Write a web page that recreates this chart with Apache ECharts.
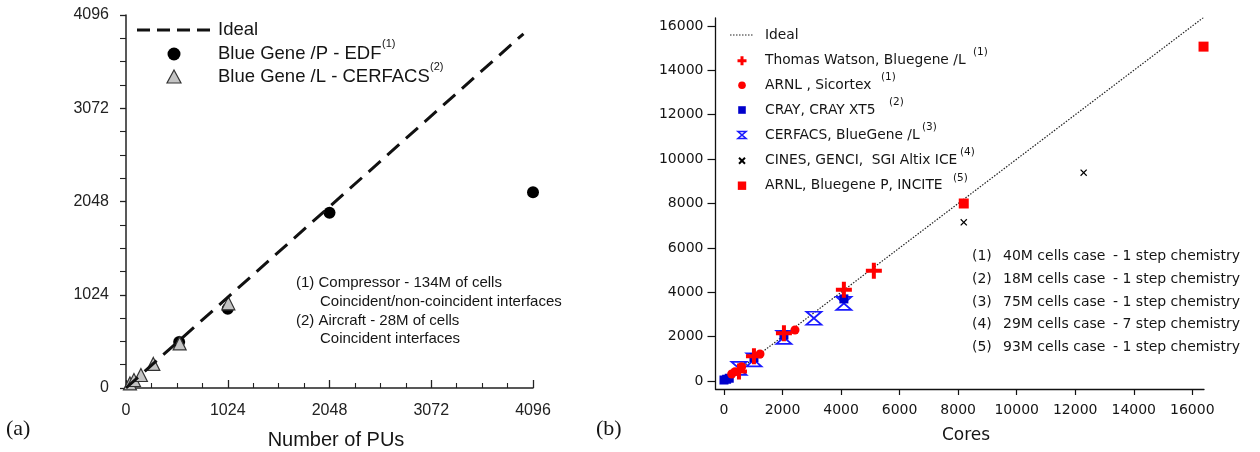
<!DOCTYPE html>
<html>
<head>
<meta charset="utf-8">
<script src="https://cdn.jsdelivr.net/npm/echarts@6/dist/echarts.min.js"></script>
<style>
html,body{margin:0;padding:0;background:#fff;}
#chart{width:1260px;height:452px;}
</style>
</head>
<body>
<div id="chart"></div>
<script>
// ---------- Panel (a) data ----------
const leftTicks = [0, 1024, 2048, 3072, 4096];
const idealA = [[0, 0], [4000, 3890]];
const edfBGP = [[535, 505], [1024, 870], [2048, 1925], [4096, 2150]];
const cerfacsBGL = [[40, 50], [80, 88], [150, 143], [275, 264], [540, 490], [1030, 930]];

// ---------- Panel (b) data ----------
const rightTicks = [0, 2000, 4000, 6000, 8000, 10000, 12000, 14000, 16000];
const idealB = [[0, 0], [16384, 16384]];
const watsonBGL = [[512, 430], [1024, 1120], [2048, 2150], [4096, 4110], [5120, 4970]];
const arnlSicortex = [[263, 315], [376, 420], [604, 645], [1230, 1217], [2426, 2298]];
const crayXT5 = [[0, 45], [90, 80], [180, 125], [1024, 1050], [2048, 2070], [4096, 3700]];
const cerfacsBlueGene = [[512, 570], [1024, 950], [2048, 1970], [3072, 2830], [4096, 3500]];
const cinesSGI = [[8192, 7150], [12288, 9390]];
const arnlBGP = [[8192, 8000], [16384, 15070]];

const legendA = ['Ideal', 'Blue Gene /P - EDF', 'Blue Gene /L - CERFACS'];
const legendASup = ['', '(1)', '(2)'];
const notesA = ['(1) Compressor - 134M of cells', 'Coincident/non-coincident interfaces', '(2) Aircraft - 28M of cells', 'Coincident interfaces'];
const legendB = ['Ideal', 'Thomas Watson, Bluegene /L', 'ARNL , Sicortex', 'CRAY, CRAY XT5', 'CERFACS, BlueGene /L', 'CINES, GENCI,  SGI Altix ICE', 'ARNL, Bluegene P, INCITE'];
const legendBSup = ['', '(1)', '(1)', '(2)', '(3)', '(4)', '(5)'];
const notesBNum = ['(1)', '(2)', '(3)', '(4)', '(5)'];
const notesBCase = ['40M cells case', '18M cells case', '75M cells case', '29M cells case', '93M cells case'];
const notesBChem = ['- 1 step chemistry', '- 1 step chemistry', '- 1 step chemistry', '- 7 step chemistry', '- 1 step chemistry'];

const SANS = 'Liberation Sans, Arial, sans-serif';
const DJ = 'DejaVu Sans, sans-serif';
const SERIF = 'Liberation Serif, Times New Roman, serif';

const PLUS = 'path://M3,0H5V3H8V5H5V8H3V5H0V3H3Z';
const XMARK = 'path://M0,1L1,0L4,3L7,0L8,1L5,4L8,7L7,8L4,5L1,8L0,7L3,4Z';
const HOURGLASS = 'path://M0,0L10,0L0,10L10,10Z';

const chart = echarts.init(document.getElementById('chart'), null, {renderer: 'canvas'});

function txt(x, y, s, size, family, opts) {
  return Object.assign({
    type: 'text', x: x, y: y, silent: true,
    style: Object.assign({text: s, fontSize: size, fontFamily: family, fill: '#151515', textVerticalAlign: 'middle', verticalAlign: 'middle'}, (opts && opts.style) || {})
  }, opts && opts.el || {});
}

const graphics = [];
// Panel (a) legend
graphics.push({type: 'line', silent: true, shape: {x1: 137, y1: 30, x2: 211, y2: 30}, style: {stroke: '#111', lineWidth: 3, lineDash: [13, 7]}});
graphics.push({type: 'circle', silent: true, shape: {cx: 174, cy: 54, r: 6.5}, style: {fill: '#000'}});
graphics.push({type: 'polygon', silent: true, shape: {points: [[174, 70], [181, 83], [167, 83]]}, style: {fill: '#c4c4c4', stroke: '#333', lineWidth: 1.2}});
const legAY = [30, 54, 77];
legendA.forEach((s, i) => {
  graphics.push(txt(218, legAY[i], s, 18.5, SANS));
});
graphics.push(txt(382, 44, legendASup[1], 11, SANS));
graphics.push(txt(430, 67, legendASup[2], 11, SANS));
const notesAPos = [[296, 283], [320, 302], [296, 321], [320, 339]];
notesA.forEach((s, i) => graphics.push(txt(notesAPos[i][0], notesAPos[i][1], s, 15, SANS)));
// axis titles (a)
graphics.push(txt(50, 189, 'Normalized speed-up', 20, SANS, {style: {align: 'center', textAlign: 'center'}, el: {rotation: Math.PI / 2, originX: 50, originY: 189}}));
graphics.push(txt(336, 440, 'Number of PUs', 20, SANS, {style: {align: 'center', textAlign: 'center'}}));
graphics.push(txt(6, 429, '(a)', 22, SERIF));

// Panel (b) legend
graphics.push({type: 'line', silent: true, shape: {x1: 730, y1: 35, x2: 754, y2: 35}, style: {stroke: '#222', lineWidth: 1.2, lineDash: [1.5, 1.5]}});
const legBY = [35, 60.7, 85.3, 110, 135, 160.7, 185.7];
const mx = 742;
graphics.push({type: 'polygon', silent: true, shape: {points: [[mx - 1.5, legBY[1] - 4.5], [mx + 1.5, legBY[1] - 4.5], [mx + 1.5, legBY[1] - 1.5], [mx + 4.5, legBY[1] - 1.5], [mx + 4.5, legBY[1] + 1.5], [mx + 1.5, legBY[1] + 1.5], [mx + 1.5, legBY[1] + 4.5], [mx - 1.5, legBY[1] + 4.5], [mx - 1.5, legBY[1] + 1.5], [mx - 4.5, legBY[1] + 1.5], [mx - 4.5, legBY[1] - 1.5], [mx - 1.5, legBY[1] - 1.5]]}, style: {fill: '#ff0000'}});
graphics.push({type: 'circle', silent: true, shape: {cx: mx, cy: legBY[2], r: 3.8}, style: {fill: '#ff0000'}});
graphics.push({type: 'rect', silent: true, shape: {x: mx - 3.8, y: legBY[3] - 3.8, width: 7.6, height: 7.6}, style: {fill: '#0000cc'}});
graphics.push({type: 'polygon', silent: true, shape: {points: [[mx - 4, legBY[4] - 3.5], [mx + 4, legBY[4] - 3.5], [mx - 4, legBY[4] + 3.5], [mx + 4, legBY[4] + 3.5]]}, style: {fill: 'none', stroke: '#1a1aff', lineWidth: 1.6}});
graphics.push({type: 'line', silent: true, shape: {x1: mx - 3, y1: legBY[5] - 3, x2: mx + 3, y2: legBY[5] + 3}, style: {stroke: '#000', lineWidth: 2}});
graphics.push({type: 'line', silent: true, shape: {x1: mx - 3, y1: legBY[5] + 3, x2: mx + 3, y2: legBY[5] - 3}, style: {stroke: '#000', lineWidth: 2}});
graphics.push({type: 'rect', silent: true, shape: {x: mx - 4.2, y: legBY[6] - 4.2, width: 8.4, height: 8.4}, style: {fill: '#ff0000'}});
legendB.forEach((s, i) => graphics.push(txt(765, legBY[i], s, 13.8, DJ)));
const supBX = [0, 973, 881, 889, 922, 960, 953];
const supBY = [0, 52, 77, 102, 127, 152, 178];
for (let i = 1; i < legendBSup.length; i++) graphics.push(txt(supBX[i], supBY[i], legendBSup[i], 10.5, DJ));
const notesBY = [256, 279, 302, 324.7, 347];
notesBY.forEach((y, i) => {
  graphics.push(txt(972, y, notesBNum[i], 14, DJ));
  graphics.push(txt(1003, y, notesBCase[i], 14, DJ));
  graphics.push(txt(1113, y, notesBChem[i], 14, DJ));
});
graphics.push(txt(662, 212, 'Equivalent Performance', 17, DJ, {style: {align: 'center', textAlign: 'center'}, el: {rotation: Math.PI / 2, originX: 662, originY: 212}}));
graphics.push(txt(966, 436, 'Cores', 17, DJ, {style: {align: 'center', textAlign: 'center'}}));
graphics.push(txt(596, 429, '(b)', 22, SERIF));

const plain = v => String(v);

const axisA = (isX) => ({
  type: 'value', gridIndex: 0, min: 0, max: 4096, interval: 1024,
  axisLine: {show: true, onZero: false, lineStyle: {color: '#222', width: 1.5}},
  axisTick: {show: true, inside: isX, length: isX ? 8 : 6, lineStyle: {color: '#222', width: 1.3}},
  minorTick: {show: true, splitNumber: 4, length: isX ? 5 : 6, lineStyle: {color: '#222', width: 1.1}},
  splitLine: {show: false}, minorSplitLine: {show: false},
  axisLabel: {margin: isX ? 15 : 17, fontSize: 16, color: '#222', fontFamily: SANS, formatter: plain}
});

const axisB = (isX) => ({
  type: 'value', gridIndex: 1,
  min: isX ? -290 : -360, max: isX ? 16400 : 16360,
  axisLine: {show: true, onZero: false, lineStyle: {color: '#111', width: 1.3}},
  axisTick: {show: true, inside: false, length: isX ? 6 : 8, customValues: rightTicks, lineStyle: {color: '#111', width: 1.2}},
  splitLine: {show: false},
  axisLabel: {margin: isX ? 14 : 12, fontSize: 14, color: '#151515', fontFamily: DJ, customValues: rightTicks, formatter: plain}
});

const option = {
  animation: false,
  backgroundColor: '#fff',
  grid: [
    {left: 126, top: 15, width: 407, height: 373},
    {left: 715.5, top: 18, width: 488.5, height: 371}
  ],
  xAxis: [axisA(true), axisB(true)],
  yAxis: [axisA(false), axisB(false)],
  series: [
    {type: 'scatter', xAxisIndex: 0, yAxisIndex: 0, data: edfBGP, symbol: 'circle', symbolSize: 12, itemStyle: {color: '#000', opacity: 1}, z: 2},
    {type: 'scatter', xAxisIndex: 0, yAxisIndex: 0, data: cerfacsBGL, symbol: 'triangle', symbolSize: 13, itemStyle: {color: '#c4c4c4', borderColor: '#333', borderWidth: 1.2, opacity: 1}, z: 3},
    {type: 'line', xAxisIndex: 0, yAxisIndex: 0, data: idealA, symbol: 'none', lineStyle: {color: '#111', width: 3, type: [16, 9]}, z: 4},

    {type: 'line', xAxisIndex: 1, yAxisIndex: 1, data: idealB, symbol: 'none', lineStyle: {color: '#222', width: 1.2, type: [1.5, 1.5]}, z: 1},
    {type: 'scatter', xAxisIndex: 1, yAxisIndex: 1, data: cerfacsBlueGene, symbol: HOURGLASS, symbolSize: [15, 13], symbolKeepAspect: false, itemStyle: {color: 'rgba(255,255,255,0)', borderColor: '#1a1aff', borderWidth: 1.8, opacity: 1}, z: 2},
    {type: 'scatter', xAxisIndex: 1, yAxisIndex: 1, data: crayXT5, symbol: 'rect', symbolSize: 9, itemStyle: {color: '#0000cc', opacity: 1}, z: 3},
    {type: 'scatter', xAxisIndex: 1, yAxisIndex: 1, data: arnlSicortex, symbol: 'circle', symbolSize: 9, itemStyle: {color: '#ff0000', opacity: 1}, z: 4},
    {type: 'scatter', xAxisIndex: 1, yAxisIndex: 1, data: watsonBGL, symbol: PLUS, symbolSize: 16, itemStyle: {color: '#ff0000', opacity: 1}, z: 5},
    {type: 'scatter', xAxisIndex: 1, yAxisIndex: 1, data: cinesSGI, symbol: XMARK, symbolSize: 7, itemStyle: {color: '#000', opacity: 1}, z: 5},
    {type: 'scatter', xAxisIndex: 1, yAxisIndex: 1, data: arnlBGP, symbol: 'rect', symbolSize: 10, itemStyle: {color: '#ff0000', opacity: 1}, z: 5}
  ],
  graphic: graphics
};
chart.setOption(option);
</script>
</body>
</html>
